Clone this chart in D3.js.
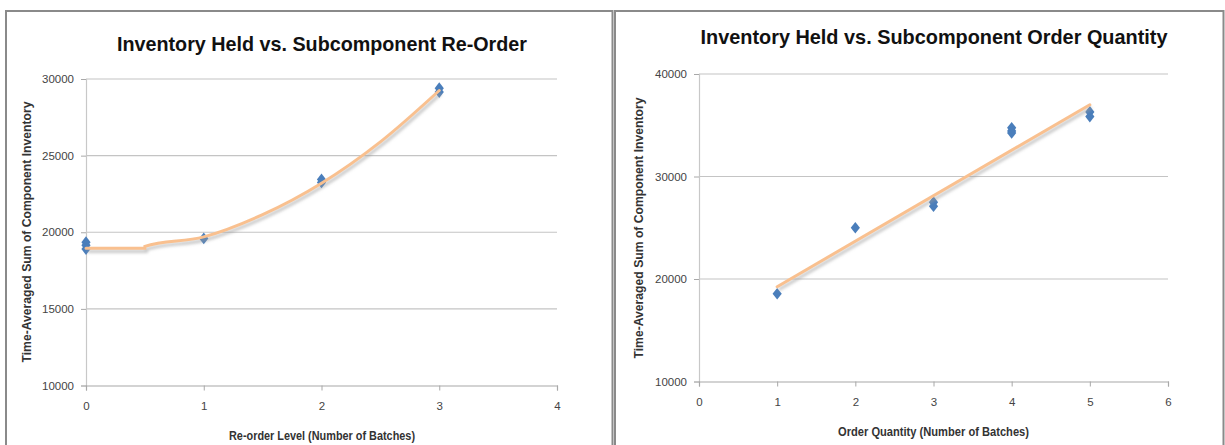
<!DOCTYPE html>
<html>
<head>
<meta charset="utf-8">
<script src="https://cdn.jsdelivr.net/npm/d3@7/dist/d3.min.js"></script>
<style>
  html, body { margin: 0; padding: 0; background: #fff; }
  svg { display: block; }
</style>
</head>
<body>
<svg id="chart" width="1225" height="445"></svg>
<script>
// ---- Re-order level chart ----
const reorderLevels = [0, 0, 0, 1, 2, 2, 3, 3];
const reorderInventory = [19350, 19150, 18900, 19600, 23450, 23250, 29400, 29150];
const reorderTrendX = [0, 0.5, 0.5, 1, 1.5, 2, 2.5, 3];
const reorderTrendY = [18950, 18950, 19080, 19700, 21150, 23200, 25900, 29250];
const reorderXTicks = [0, 1, 2, 3, 4];
const reorderYTicks = [10000, 15000, 20000, 25000, 30000];

// ---- Order quantity chart ----
const orderQty = [1, 2, 3, 3, 4, 4, 4, 5, 5];
const orderInventory = [18560, 25000, 27500, 27100, 34750, 34450, 34250, 36300, 35850];
const orderTrendX = [1, 5];
const orderTrendY = [19250, 37000];
const orderXTicks = [0, 1, 2, 3, 4, 5, 6];
const orderYTicks = [10000, 20000, 30000, 40000];

const svg = d3.select("#chart");

const defs = svg.append("defs");
defs.append("filter").attr("id", "shadowBlur")
  .attr("x", "-10%").attr("y", "-10%").attr("width", "120%").attr("height", "120%")
  .append("feGaussianBlur").attr("stdDeviation", 1.4);

// Slightly tall diamond marker
const diamond = {
  draw(ctx, size) {
    const w = Math.sqrt(size) * 0.55, h = Math.sqrt(size) * 0.7;
    ctx.moveTo(0, -h); ctx.lineTo(w, 0); ctx.lineTo(0, h); ctx.lineTo(-w, 0); ctx.closePath();
  }
};

// Panel frames
const frameColor = "#8a8a8a";
svg.append("path")
  .attr("d", "M6,445 V11 H612.5 V445")
  .attr("fill", "none").attr("stroke", frameColor).attr("stroke-width", 2);
svg.append("path")
  .attr("d", "M615,445 V11 H1223.5 V445")
  .attr("fill", "none").attr("stroke", frameColor).attr("stroke-width", 2);

const font = "Liberation Sans, Arial, sans-serif";

function drawPanel(cfg) {
  const g = svg.append("g");
  const x = d3.scaleLinear().domain(cfg.xDomain).range([cfg.left, cfg.right]);
  const y = d3.scaleLinear().domain(cfg.yDomain).range([cfg.bottom, cfg.top]);

  // horizontal gridlines
  g.append("g").selectAll("line").data(cfg.yTicks.slice(1)).join("line")
    .attr("x1", cfg.left).attr("x2", cfg.right)
    .attr("y1", d => y(d)).attr("y2", d => y(d))
    .attr("stroke", "#c4c4c4").attr("stroke-width", 1.2);

  // y axis
  const yAxis = g.append("g").attr("transform", `translate(${cfg.left},0)`)
    .call(d3.axisLeft(y).tickValues(cfg.yTicks).tickSize(5).tickPadding(7).tickFormat(d3.format("d")));
  yAxis.select(".domain").attr("stroke", "#c8c8c8").attr("stroke-width", 1.2);
  yAxis.selectAll(".tick line").attr("stroke", "#a8a8a8");
  yAxis.selectAll(".tick text")
    .attr("fill", "#444").attr("font-family", font).attr("font-size", 11.5);

  // x axis
  const xAxis = g.append("g").attr("transform", `translate(0,${cfg.bottom})`)
    .call(d3.axisBottom(x).tickValues(cfg.xTicks).tickSize(5).tickPadding(11).tickFormat(d3.format("d")));
  xAxis.select(".domain").attr("stroke", "#a8a8a8").attr("stroke-width", 1.2);
  xAxis.selectAll(".tick line").attr("stroke", "#a8a8a8");
  xAxis.selectAll(".tick text")
    .attr("fill", "#444").attr("font-family", font).attr("font-size", 11.5);

  // points
  const pts = cfg.xs.map((v, i) => [v, cfg.ys[i]]);
  g.append("g").selectAll("path").data(pts).join("path")
    .attr("transform", d => `translate(${x(d[0])},${y(d[1])})`)
    .attr("d", d3.symbol().type(diamond).size(70))
    .attr("fill", "#4a7ebb");

  // trendline with soft shadow
  const trend = cfg.trendX.map((v, i) => [v, cfg.trendY[i]]);
  const line = d3.line().x(d => x(d[0])).y(d => y(d[1])).curve(cfg.curve);
  g.append("path").datum(trend)
    .attr("d", line).attr("fill", "none")
    .attr("stroke", "#9a9a9a").attr("stroke-opacity", 0.55).attr("stroke-width", 3.2)
    .attr("transform", "translate(1.5,3)").attr("filter", "url(#shadowBlur)");
  g.append("path").datum(trend)
    .attr("d", line).attr("fill", "none")
    .attr("stroke", "#f9c08f").attr("stroke-width", 3).attr("stroke-linecap", "round");

  // title
  g.append("text")
    .attr("x", cfg.titleX).attr("y", cfg.titleY)
    .attr("text-anchor", "middle")
    .attr("font-family", font).attr("font-weight", "bold")
    .attr("font-size", 21).attr("fill", "#111")
    .attr("textLength", cfg.titleLen).attr("lengthAdjust", "spacingAndGlyphs")
    .text(cfg.title);

  // x axis title
  g.append("text")
    .attr("x", (cfg.left + cfg.right) / 2 + cfg.xTitleDx).attr("y", cfg.xTitleY)
    .attr("text-anchor", "middle")
    .attr("font-family", font).attr("font-weight", "bold")
    .attr("font-size", 12.5).attr("fill", "#333")
    .attr("textLength", cfg.xTitleLen).attr("lengthAdjust", "spacingAndGlyphs")
    .text(cfg.xTitle);

  // y axis title
  g.append("text")
    .attr("transform", `translate(${cfg.yTitleX},${cfg.yTitleY}) rotate(-90)`)
    .attr("text-anchor", "middle")
    .attr("font-family", font).attr("font-weight", "bold")
    .attr("font-size", 12.5).attr("fill", "#333")
    .attr("textLength", 261).attr("lengthAdjust", "spacingAndGlyphs")
    .text("Time-Averaged Sum of Component  Inventory");
}

drawPanel({
  xDomain: [0, 4], yDomain: [10000, 30000],
  left: 86, right: 557, top: 79, bottom: 385.5,
  xTicks: reorderXTicks, yTicks: reorderYTicks,
  xs: reorderLevels, ys: reorderInventory,
  trendX: reorderTrendX, trendY: reorderTrendY, curve: d3.curveMonotoneX,
  title: "Inventory Held vs. Subcomponent Re-Order", titleX: 322, titleY: 51, titleLen: 410,
  xTitle: "Re-order Level (Number of Batches)", xTitleY: 439.5, xTitleDx: 0.5, xTitleLen: 186,
  yTitleX: 31, yTitleY: 232
});

drawPanel({
  xDomain: [0, 6], yDomain: [10000, 40000],
  left: 699, right: 1168, top: 74, bottom: 381.5,
  xTicks: orderXTicks, yTicks: orderYTicks,
  xs: orderQty, ys: orderInventory,
  trendX: orderTrendX, trendY: orderTrendY, curve: d3.curveLinear,
  title: "Inventory Held vs. Subcomponent Order Quantity", titleX: 934, titleY: 43.5, titleLen: 467,
  xTitle: "Order Quantity (Number of Batches)", xTitleY: 435.5, xTitleDx: 0, xTitleLen: 191,
  yTitleX: 643, yTitleY: 228
});
</script>
</body>
</html>
